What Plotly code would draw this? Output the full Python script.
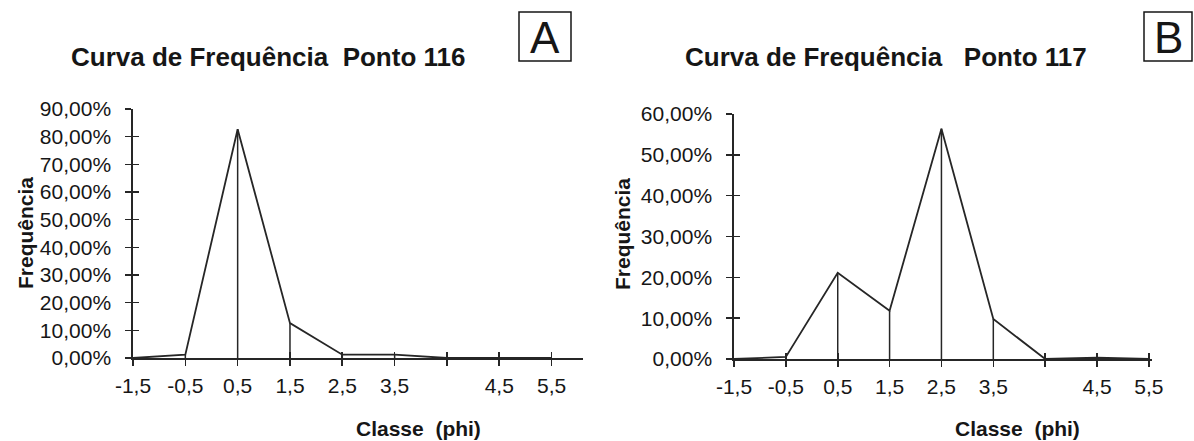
import plotly.graph_objects as go

# ---------------- data ----------------
classes = ["-1,5", "-0,5", "0,5", "1,5", "2,5", "3,5", " ", "4,5", "5,5"]
freq_116 = [0.0, 1.2, 82.7, 12.6, 1.2, 1.2, 0.0, 0.0, 0.0]
freq_117 = [0.0, 0.5, 21.1, 11.8, 56.4, 9.8, 0.0, 0.3, 0.0]

yticks_116 = [0, 10, 20, 30, 40, 50, 60, 70, 80, 90]
yticklabels_116 = ["0,00%", "10,00%", "20,00%", "30,00%", "40,00%",
                   "50,00%", "60,00%", "70,00%", "80,00%", "90,00%"]
yticks_117 = [0, 10, 20, 30, 40, 50, 60]
yticklabels_117 = ["0,00%", "10,00%", "20,00%", "30,00%", "40,00%",
                   "50,00%", "60,00%"]

title_116 = "Curva de Frequência  Ponto 116"
title_117 = "Curva de Frequência   Ponto 117"
panel_116 = "A"
panel_117 = "B"
x_title = "Classe  (phi)"
y_title = "Frequência"

# ---------------- style ----------------
W, H = 1194, 441
FONT = "Liberation Sans, Arial, sans-serif"
INK = "#161616"
LINE = "#262626"


def px(x):
    return x / W


def py(y):
    return 1 - y / H


fig = go.Figure()


def add_panel(idx, values, yticks, yticklabels, xdom_px, ydom_px, xmax):
    xa, ya = ("x", "y") if idx == 1 else ("x2", "y2")
    xo, yo = ("x3", "y3") if idx == 1 else ("x4", "y4")
    # main polyline
    fig.add_trace(go.Scatter(x=classes, y=values, mode="lines",
                             line=dict(color=LINE, width=1.8),
                             xaxis=xa, yaxis=ya, showlegend=False,
                             hoverinfo="skip"))
    # drop lines from each point to the axis
    dx, dy = [], []
    for c, v in zip(classes, values):
        if v > 0:
            dx += [c, c, None]
            dy += [0, v, None]
    fig.add_trace(go.Scatter(x=dx, y=dy, mode="lines",
                             line=dict(color=LINE, width=1.5),
                             xaxis=xa, yaxis=ya, showlegend=False,
                             hoverinfo="skip"))
    # transparent trace on overlay axes so the categories exist there
    fig.add_trace(go.Scatter(x=classes, y=values, mode="lines",
                             line=dict(color="rgba(0,0,0,0)", width=0),
                             xaxis=xo, yaxis=yo, showlegend=False,
                             hoverinfo="skip"))

    xdom = [px(xdom_px[0]), px(xdom_px[1])]
    ydom = [py(ydom_px[1]), py(ydom_px[0])]
    yr = [0, yticks[-1]]
    common_x = dict(type="category", categoryorder="array",
                    categoryarray=classes, range=[0, xmax], domain=xdom,
                    showgrid=False, zeroline=False, fixedrange=True,
                    automargin=False)
    common_y = dict(range=yr, domain=ydom, showgrid=False, zeroline=False,
                    tickmode="array", tickvals=yticks, fixedrange=True,
                    automargin=False)

    n = "" if idx == 1 else "2"
    no = "3" if idx == 1 else "4"
    fig.update_layout(**{
        "xaxis" + n: dict(**common_x, anchor=ya, showline=True,
                          linecolor=LINE, linewidth=1.7, ticks="outside",
                          ticklen=6, tickwidth=1.6, tickcolor=LINE,
                          tickfont=dict(family=FONT, size=21, color=INK),
                          ticklabelstandoff=2),
        "yaxis" + n: dict(**common_y, anchor=xa, showline=True,
                          linecolor=LINE, linewidth=1.7, ticks="outside",
                          ticklen=6, tickwidth=1.6, tickcolor=LINE,
                          ticktext=yticklabels,
                          tickfont=dict(family=FONT, size=21, color=INK),
                          ticklabelstandoff=10),
        "xaxis" + no: dict(**common_x, anchor=yo, overlaying=xa,
                           showline=False, ticks="inside", ticklen=6,
                           tickwidth=1.6, tickcolor=LINE,
                           showticklabels=False),
        "yaxis" + no: dict(**common_y, anchor=xo, overlaying=ya,
                           showline=False, ticks="inside", ticklen=6,
                           tickwidth=1.6, tickcolor=LINE,
                           showticklabels=False),
    })


add_panel(1, freq_116, yticks_116, yticklabels_116,
          (133, 583), (109, 358), 8.6)
add_panel(2, freq_117, yticks_117, yticklabels_117,
          (734, 1152), (114, 359), 8.06)

annotations = []


def text(x, y, s, size, bold=False, angle=0):
    annotations.append(dict(
        x=px(x), y=py(y), xref="paper", yref="paper", text=s,
        showarrow=False, xanchor="center", yanchor="middle", textangle=angle,
        font=dict(family=FONT, size=size, color=INK,
                  weight="bold" if bold else "normal")))


# titles
text(268, 57, title_116, 26, bold=True)
text(886, 57, title_117, 26, bold=True)
# panel letters
text(545, 37, panel_116, 44)
text(1168, 37, panel_117, 44)
# axis titles
text(418, 428, x_title, 21, bold=True)
text(1017, 428, x_title, 21, bold=True)
text(25, 233, y_title, 21, bold=True, angle=-90)
text(622, 234, y_title, 21, bold=True, angle=-90)

shapes = [
    dict(type="rect", xref="paper", yref="paper",
         x0=px(519), x1=px(571), y0=py(61), y1=py(12),
         line=dict(color=INK, width=1.5)),
    dict(type="rect", xref="paper", yref="paper",
         x0=px(1144), x1=px(1192), y0=py(61), y1=py(12),
         line=dict(color=INK, width=1.5)),
]

fig.update_layout(
    template="none",
    width=W, height=H,
    margin=dict(l=0, r=0, t=0, b=0, pad=0, autoexpand=False),
    paper_bgcolor="white", plot_bgcolor="white",
    annotations=annotations, shapes=shapes,
    showlegend=False,
)

fig.write_html(
    "out.html",
    config={"displayModeBar": False, "staticPlot": True},
    post_script="document.body.style.margin='0';"
                "document.body.style.overflow='hidden';",
)
